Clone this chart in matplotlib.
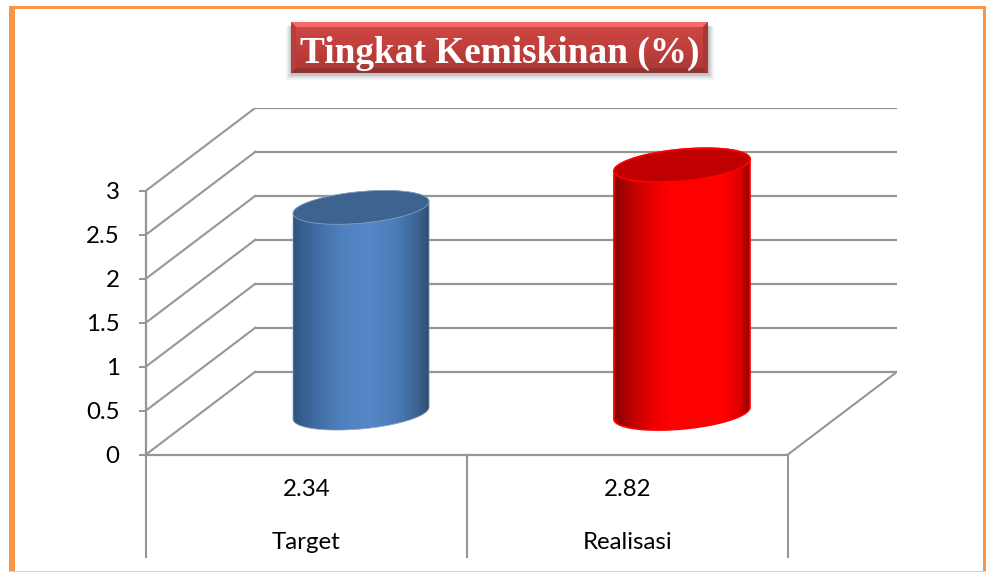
# plot.py

import numpy as np
import matplotlib
matplotlib.use('Agg')
import matplotlib.pyplot as plt
from matplotlib.colors import LinearSegmentedColormap
from matplotlib.patches import Rectangle, Polygon, PathPatch
from matplotlib.path import Path

# Data
categories = ['Target', 'Realisasi']
values = [2.34, 2.82]
value_labels = ['2.34', '2.82']
y_ticks = [0, 0.5, 1, 1.5, 2, 2.5, 3]
y_tick_labels = ['0', '0.5', '1', '1.5', '2', '2.5', '3']
title_text = 'Tingkat Kemiskinan (%)'

# Colours of each cylinder: gradient stops, top face, edge
body_stops = [
    [(0, '#30547f'), (0.15, '#3f6a9f'), (0.35, '#4f80bd'), (0.55, '#5688c9'),
     (0.75, '#4c7cb6'), (0.9, '#3d6595'), (1, '#2f4d72')],
    [(0, '#850000'), (0.12, '#bb0000'), (0.3, '#ee0000'), (0.42, '#ff0000'),
     (0.8, '#ff0000'), (0.92, '#dd0000'), (1, '#8a0000')],
]
top_colors = ['#3d6491', '#c00000']
edge_colors = ['#8fa8c8', '#ff0000']
edge_widths = [0.5, 1.2]

W, H = 987, 572
GRID = '#969696'
ORANGE = '#f79646'

# Fake 3D depth, in category / value units
DEPTH_X = 0.34
DEPTH_Y = 0.94
# Cylinder ellipse: half width, half height, tilt
ELL_A = 0.212
ELL_B = 0.18
ELL_S = 0.068

LABEL_SIZE = 17.3


def px_rect(x0, y0, x1, y1):
    # pixel box (y from top) to figure fractions
    return [x0 / W, 1 - y1 / H, (x1 - x0) / W, (y1 - y0) / H]


def fig_box(fig, x0, y0, x1, y1, zorder=0, **kwargs):
    l, b, w, h = px_rect(x0, y0, x1, y1)
    fig.add_artist(Rectangle((l, b), w, h, transform=fig.transFigure, edgecolor='none',
                             zorder=zorder, **kwargs))


def ellipse_points(cx, cy, t):
    return np.column_stack([cx + ELL_A * np.cos(t),
                            cy + ELL_S * np.cos(t) + ELL_B * np.sin(t)])


def draw_cylinder(ax, pos, value, stops, top_color, edge_color, edge_width):
    cx = pos + 0.5 + DEPTH_X / 2
    base = DEPTH_Y / 2
    top = base + value
    lower = ellipse_points(cx, base, np.linspace(np.pi, 2 * np.pi, 60))
    upper = ellipse_points(cx, top, np.linspace(0, np.pi, 60))
    outline = np.vstack([lower, upper, lower[:1]])

    cmap = LinearSegmentedColormap.from_list('body', stops)
    im = ax.imshow(np.linspace(0, 1, 256).reshape(1, -1), cmap=cmap, aspect='auto',
                   extent=[cx - ELL_A, cx + ELL_A, base - 0.4, top + 0.4], zorder=3)
    clip = PathPatch(Path(outline), transform=ax.transData, facecolor='none', edgecolor='none')
    ax.add_patch(clip)
    im.set_clip_path(clip)
    ax.plot(outline[:, 0], outline[:, 1], color=edge_color, lw=edge_width, zorder=4)

    cap = ellipse_points(cx, top, np.linspace(0, 2 * np.pi, 120))
    ax.add_patch(Polygon(cap, closed=True, facecolor=top_color, edgecolor=edge_color,
                         lw=edge_width, zorder=5))


def draw_title(fig):
    x0, y0, x1, y1 = 291, 22, 708, 73
    # soft shadow
    for grow, alpha in [(6, 0.05), (4, 0.08), (2, 0.12)]:
        fig_box(fig, x0 - grow + 1, y0 + 4, x1 + grow, y1 + grow + 1, zorder=5,
                facecolor='black', alpha=alpha)
    box = fig.add_axes(px_rect(x0, y0, x1, y1), zorder=6)
    box.axis('off')
    cmap = LinearSegmentedColormap.from_list('title', ['#cf4845', '#c03f3c', '#a93835'])
    box.imshow(np.linspace(0, 1, 64).reshape(-1, 1), cmap=cmap, aspect='auto',
               extent=[x0, x1, y1, y0])
    b = 5
    box.add_patch(Polygon([(x0, y0), (x1, y0), (x1 - b, y0 + b), (x0 + b, y0 + b)], facecolor='#f46c6a', edgecolor='none'))
    box.add_patch(Polygon([(x0, y1), (x1, y1), (x1 - b, y1 - b), (x0 + b, y1 - b)], facecolor='#933230', edgecolor='none'))
    box.add_patch(Polygon([(x0, y0), (x0 + b, y0 + b), (x0 + b, y1 - b), (x0, y1)], facecolor='#b53d3b', edgecolor='none'))
    box.add_patch(Polygon([(x1, y0), (x1 - b, y0 + b), (x1 - b, y1 - b), (x1, y1)], facecolor='#a83735', edgecolor='none'))
    box.set_xlim(x0, x1)
    box.set_ylim(y1, y0)
    box.text((x0 + x1) / 2, 49, title_text, color='white', fontsize=26.8, fontweight='bold',
             family='Liberation Serif', ha='center', va='center_baseline')


fig = plt.figure(figsize=(W / 100, H / 100), dpi=100, facecolor='white')

# Orange frame, uneven like the cropped original
fig_box(fig, 9, 6, 15, 572, facecolor=ORANGE)
fig_box(fig, 9, 6, 986, 8.5, facecolor=ORANGE)
fig_box(fig, 983, 6, 987, 572, facecolor=ORANGE)
fig_box(fig, 9, 570.7, 987, 572, facecolor='#fbcba5')

ax = fig.add_axes(px_rect(146, 108, 897, 454.5))
ax.patch.set_alpha(0)

# Back wall and side wall gridlines
for v in y_ticks:
    ax.plot([0, DEPTH_X], [v, v + DEPTH_Y], color=GRID, lw=1.5, zorder=1)
    ax.plot([DEPTH_X, 2 + DEPTH_X], [v + DEPTH_Y, v + DEPTH_Y], color=GRID, lw=1.6, zorder=1)
ax.plot([2, 2 + DEPTH_X], [0, DEPTH_Y], color=GRID, lw=1.5, zorder=1)

for i, v in enumerate(values):
    draw_cylinder(ax, i, v, body_stops[i], top_colors[i], edge_colors[i], edge_widths[i])

ax.set_xlim(0, 2 + DEPTH_X)
ax.set_ylim(0, 3 + DEPTH_Y)

for s in ['top', 'right']:
    ax.spines[s].set_visible(False)
ax.spines['left'].set_bounds(0, 3)
ax.spines['bottom'].set_bounds(0, 2)
for s in ['left', 'bottom']:
    ax.spines[s].set_color(GRID)
    ax.spines[s].set_linewidth(1.6)
ax.set_xticks([])
ax.set_yticks(y_ticks)
ax.set_yticklabels(y_tick_labels, fontsize=LABEL_SIZE, family='Lato', color='black')
ax.tick_params(axis='y', length=5, width=1.4, color=GRID, pad=14)

# Data table below the floor
for x in [0, 1, 2]:
    ax.plot([x, x], [0, -1.165], color=GRID, lw=1.5, clip_on=False)
for i in range(len(categories)):
    ax.text(i + 0.5, -0.40, value_labels[i], ha='center', va='center', fontsize=LABEL_SIZE, family='Lato')
    ax.text(i + 0.5, -1.0, categories[i], ha='center', va='center', fontsize=LABEL_SIZE, family='Lato')

draw_title(fig)

fig.savefig('out.png', dpi=100)
plt.close(fig)
